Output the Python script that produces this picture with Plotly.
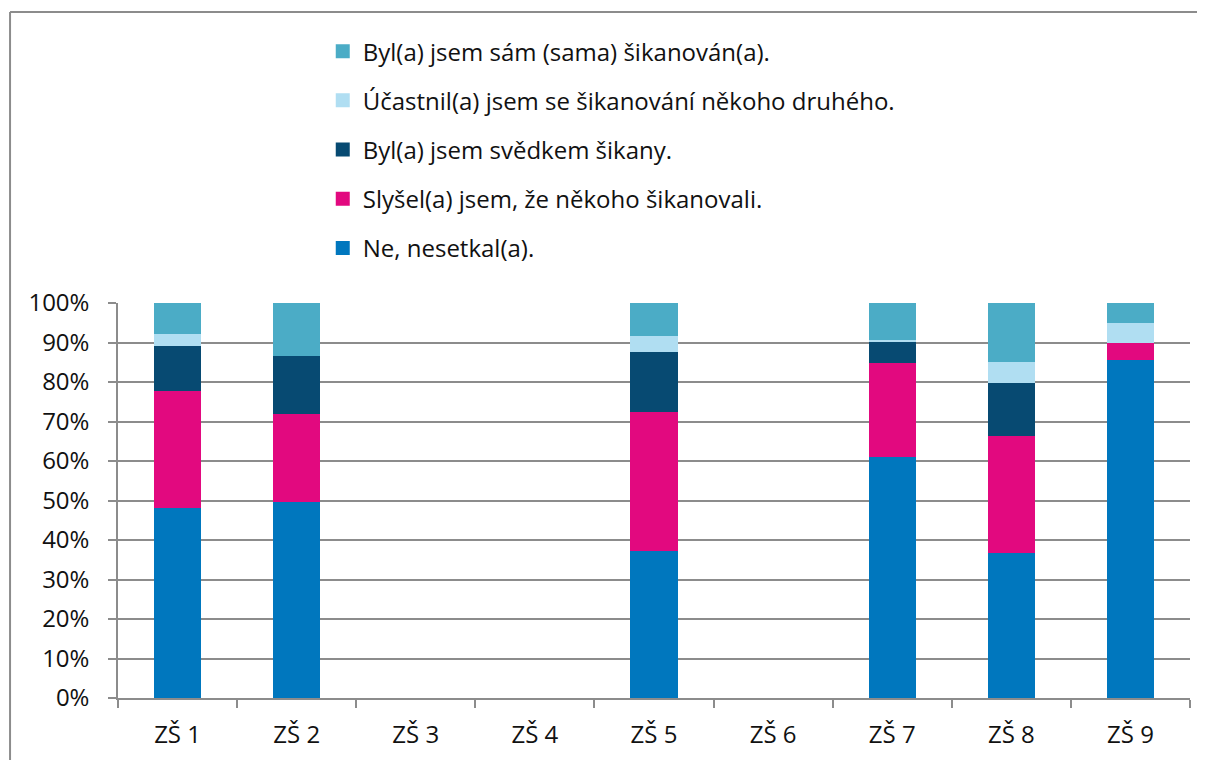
import plotly.graph_objects as go

categories = ["ZŠ 1", "ZŠ 2", "ZŠ 3", "ZŠ 4", "ZŠ 5", "ZŠ 6", "ZŠ 7", "ZŠ 8", "ZŠ 9"]

ne_nesetkal = [48.3, 50.0, None, None, 37.4, None, 61.3, 37.0, 85.8]
slysel = [29.7, 22.1, None, None, 35.2, None, 23.7, 29.6, 4.4]
svedkem = [11.3, 14.8, None, None, 15.2, None, 5.4, 13.3, 0.0]
ucastnil = [3.0, 0.0, None, None, 4.1, None, 0.5, 5.5, 5.1]
sam = [7.7, 13.1, None, None, 8.1, None, 9.1, 14.6, 4.7]

series_names = [
    "Ne, nesetkal(a).",
    "Slyšel(a) jsem, že někoho šikanovali.",
    "Byl(a) jsem svědkem šikany.",
    "Účastnil(a) jsem se šikanování někoho druhého.",
    "Byl(a) jsem sám (sama) šikanován(a).",
]
series_values = [ne_nesetkal, slysel, svedkem, ucastnil, sam]
colors = ["#0077BE", "#E2097F", "#074A72", "#B0DEF2", "#4BACC6"]

y_tickvals = [0, 10, 20, 30, 40, 50, 60, 70, 80, 90, 100]
y_ticktext = ["0%", "10%", "20%", "30%", "40%", "50%", "60%", "70%", "80%", "90%", "100%"]

FONT = "Open Sans, Noto Sans, sans-serif"
TXT = "#111111"
FS = 24

fig = go.Figure()
n = len(series_names)
for i, (name, vals, col) in enumerate(zip(series_names, series_values, colors)):
    fig.add_trace(go.Bar(
        x=categories, y=vals, name=name, legendgroup=name,
        legendrank=n - i,
        marker=dict(color=col, line=dict(width=2, color=col)),
    ))

fig.update_layout(
    barmode="stack",
    bargap=0.622,
    width=1197, height=752,
    margin=dict(l=110, r=15, t=295, b=62, autoexpand=False),
    paper_bgcolor="white", plot_bgcolor="white",
    font=dict(family=FONT, size=FS, color=TXT),
    legend=dict(
        traceorder="grouped",
        tracegroupgap=15,
        x=0.191, xanchor="left",
        y=1.6935, yanchor="top",
        font=dict(family=FONT, size=FS, color=TXT),
        bgcolor="rgba(0,0,0,0)",
        itemwidth=30,
    ),
    xaxis=dict(
        showline=True, linecolor="#8c8c8c", linewidth=1.5,
        ticks="outside", ticklen=8, tickcolor="#8c8c8c", tickwidth=1.5,
        tickson="boundaries",
        ticklabelstandoff=14,
        tickfont=dict(family=FONT, size=FS, color=TXT),
        showgrid=False,
    ),
    yaxis=dict(
        range=[0, 100],
        tickvals=y_tickvals, ticktext=y_ticktext,
        showline=True, linecolor="#8c8c8c", linewidth=1.5,
        ticks="outside", ticklen=8, tickcolor="#8c8c8c", tickwidth=1.5,
        ticklabelstandoff=14,
        showgrid=True, gridcolor="#8c8c8c", gridwidth=1.5,
        tickfont=dict(family=FONT, size=FS, color=TXT),
        zeroline=False,
    ),
    shapes=[
        dict(type="line", xref="paper", yref="paper",
             x0=-0.1007, x1=1.02, y0=1.7367, y1=1.7367,
             line=dict(color="#8c8c8c", width=2)),
        dict(type="line", xref="paper", yref="paper",
             x0=-0.1007, x1=-0.1007, y0=1.7367, y1=-0.2,
             line=dict(color="#8c8c8c", width=2)),
    ],
)

fig.write_html("out.html")
